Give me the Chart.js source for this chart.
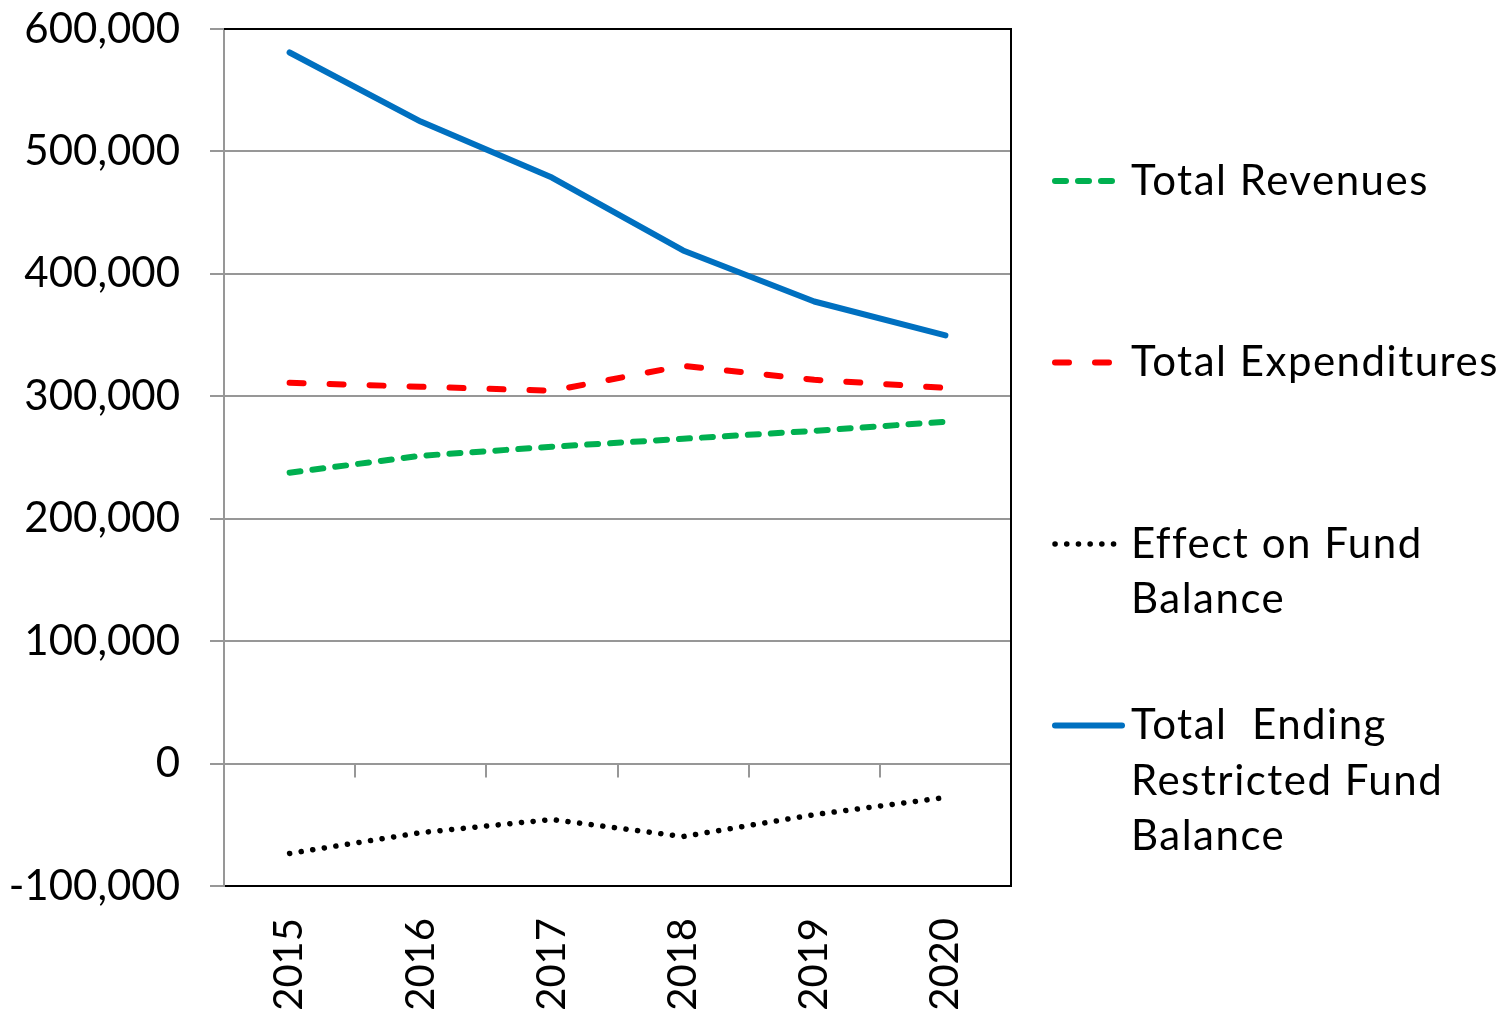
<!DOCTYPE html>
<html>
<head>
<meta charset="utf-8">
<script src="https://cdn.jsdelivr.net/npm/chart.js@4/dist/chart.umd.min.js"></script>
<style>
  html, body { margin: 0; padding: 0; background: #ffffff; }
  #wrap { width: 1508px; height: 1013px; position: relative; }
</style>
</head>
<body>
<div id="wrap"><canvas id="fundChart" width="1508" height="1013"></canvas></div>
<script>
// Fiscal years on the category axis
const years = ['2015', '2016', '2017', '2018', '2019', '2020'];

// Series values (dollars)
const totalRevenues       = [237600, 251400, 258800, 265300, 271800, 279200];
const totalExpenditures   = [311000, 307800, 304500, 324900, 313500, 306900];
const effectOnFundBalance = [-73400, -56400, -45700, -59600, -41700, -27700];
const endingRestricted    = [580800, 524400, 478700, 419100, 377400, 349700];

// Series names
const seriesNames = [
  'Total Revenues',
  'Total Expenditures',
  'Effect on Fund Balance',
  'Total  Ending Restricted Fund Balance'
];

// Value axis range and step
const yMin = -100000;
const yMax = 600000;
const yStep = 100000;

const FONT = 'Lato, "Open Sans", sans-serif';
const GRID = '#979797';

// Tick marks along the zero line at category boundaries, plus the black frame
const frameAndZeroTicks = {
  id: 'frameAndZeroTicks',
  beforeDatasetsDraw(chart) {
    const { ctx, chartArea, scales } = chart;
    const x = scales.x, y = scales.y;
    const y0 = y.getPixelForValue(0);
    ctx.save();
    ctx.strokeStyle = GRID;
    ctx.lineWidth = 2;
    for (let i = 1; i <= years.length; i++) {
      const bx = i < years.length
        ? (x.getPixelForValue(i - 1) + x.getPixelForValue(i)) / 2
        : chartArea.right;
      ctx.beginPath();
      ctx.moveTo(Math.round(bx), y0);
      ctx.lineTo(Math.round(bx), y0 + 14);
      ctx.stroke();
    }
    ctx.restore();
  },
  afterDraw(chart) {
    const { ctx, chartArea } = chart;
    ctx.save();
    ctx.strokeStyle = '#000000';
    ctx.lineWidth = 2;
    ctx.beginPath();
    ctx.moveTo(chartArea.left, chartArea.top);
    ctx.lineTo(chartArea.right, chartArea.top);
    ctx.lineTo(chartArea.right, chartArea.bottom);
    ctx.stroke();
    ctx.restore();
  }
};

// Legend drawn to the right of the plot, with wrapped labels
const sideLegend = {
  id: 'sideLegend',
  afterDraw(chart) {
    const { ctx } = chart;
    const sampleX0 = 1055, sampleX1 = 1114, textX = 1131;
    const firstY = 181, entryGap = 181.5, lineGap = 55.5, maxW = 392;
    ctx.save();
    ctx.font = '42px ' + FONT;
    ctx.letterSpacing = '1.5px';
    ctx.fillStyle = '#000000';
    ctx.textBaseline = 'middle';
    ctx.textAlign = 'left';
    chart.data.datasets.forEach((ds, i) => {
      const cy = firstY + i * entryGap;
      // line sample
      ctx.save();
      ctx.strokeStyle = ds.borderColor;
      ctx.lineWidth = ds.borderWidth;
      ctx.lineCap = 'round';
      ctx.setLineDash(ds.borderDash || []);
      ctx.beginPath();
      ctx.moveTo(sampleX0, cy);
      ctx.lineTo(i === 3 ? sampleX1 + 8 : sampleX1, cy);
      ctx.stroke();
      ctx.restore();
      // wrapped text
      const words = ds.label.split(' ');
      const lines = [];
      let cur = '';
      words.forEach(w => {
        const test = cur === '' ? w : cur + ' ' + w;
        if (cur !== '' && w !== '' && ctx.measureText(test).width > maxW) {
          lines.push(cur);
          cur = w;
        } else {
          cur = test;
        }
      });
      lines.push(cur);
      lines.forEach((ln, k) => ctx.fillText(ln, textX, cy + k * lineGap));
    });
    ctx.restore();
  }
};

new Chart(document.getElementById('fundChart'), {
  type: 'line',
  data: {
    labels: years,
    datasets: [
      {
        label: seriesNames[0],
        data: totalRevenues,
        borderColor: '#00B050',
        borderWidth: 6,
        borderDash: [11, 12],
        borderCapStyle: 'round',
        borderJoinStyle: 'round'
      },
      {
        label: seriesNames[1],
        data: totalExpenditures,
        borderColor: '#FF0000',
        borderWidth: 6,
        borderDash: [14, 26],
        borderCapStyle: 'round',
        borderJoinStyle: 'round'
      },
      {
        label: seriesNames[2],
        data: effectOnFundBalance,
        borderColor: '#000000',
        borderWidth: 5.5,
        borderDash: [0.1, 11.6],
        borderCapStyle: 'round',
        borderJoinStyle: 'round'
      },
      {
        label: seriesNames[3],
        data: endingRestricted,
        borderColor: '#0070C0',
        borderWidth: 6,
        borderCapStyle: 'round',
        borderJoinStyle: 'round'
      }
    ]
  },
  options: {
    responsive: false,
    animation: false,
    events: [],
    elements: { point: { radius: 0 }, line: { tension: 0 } },
    layout: { padding: { top: 29, right: 497, left: 0, bottom: 0 } },
    plugins: { legend: { display: false }, tooltip: { enabled: false } },
    scales: {
      x: {
        type: 'category',
        offset: true,
        afterFit(scale) {
          scale.height = 127;
        },
        grid: { display: false },
        border: { display: true, color: '#000000', width: 2 },
        ticks: {
          color: '#000000',
          font: { family: FONT, size: 40 },
          minRotation: 90,
          maxRotation: 90,
          autoSkip: false,
          padding: 24
        }
      },
      y: {
        min: yMin,
        max: yMax,
        afterFit(scale) {
          scale.width = 224;
          scale.paddingTop = 0;
          scale.paddingBottom = 0;
        },
        grid: {
          color: GRID,
          lineWidth: 2,
          tickLength: 14,
          tickColor: GRID
        },
        border: { display: true, color: GRID, width: 2 },
        ticks: {
          stepSize: yStep,
          color: '#000000',
          font: { family: FONT, size: 42 },
          padding: 30,
          callback: v => v.toLocaleString('en-US')
        }
      }
    }
  },
  plugins: [frameAndZeroTicks, sideLegend]
});
</script>
</body>
</html>
